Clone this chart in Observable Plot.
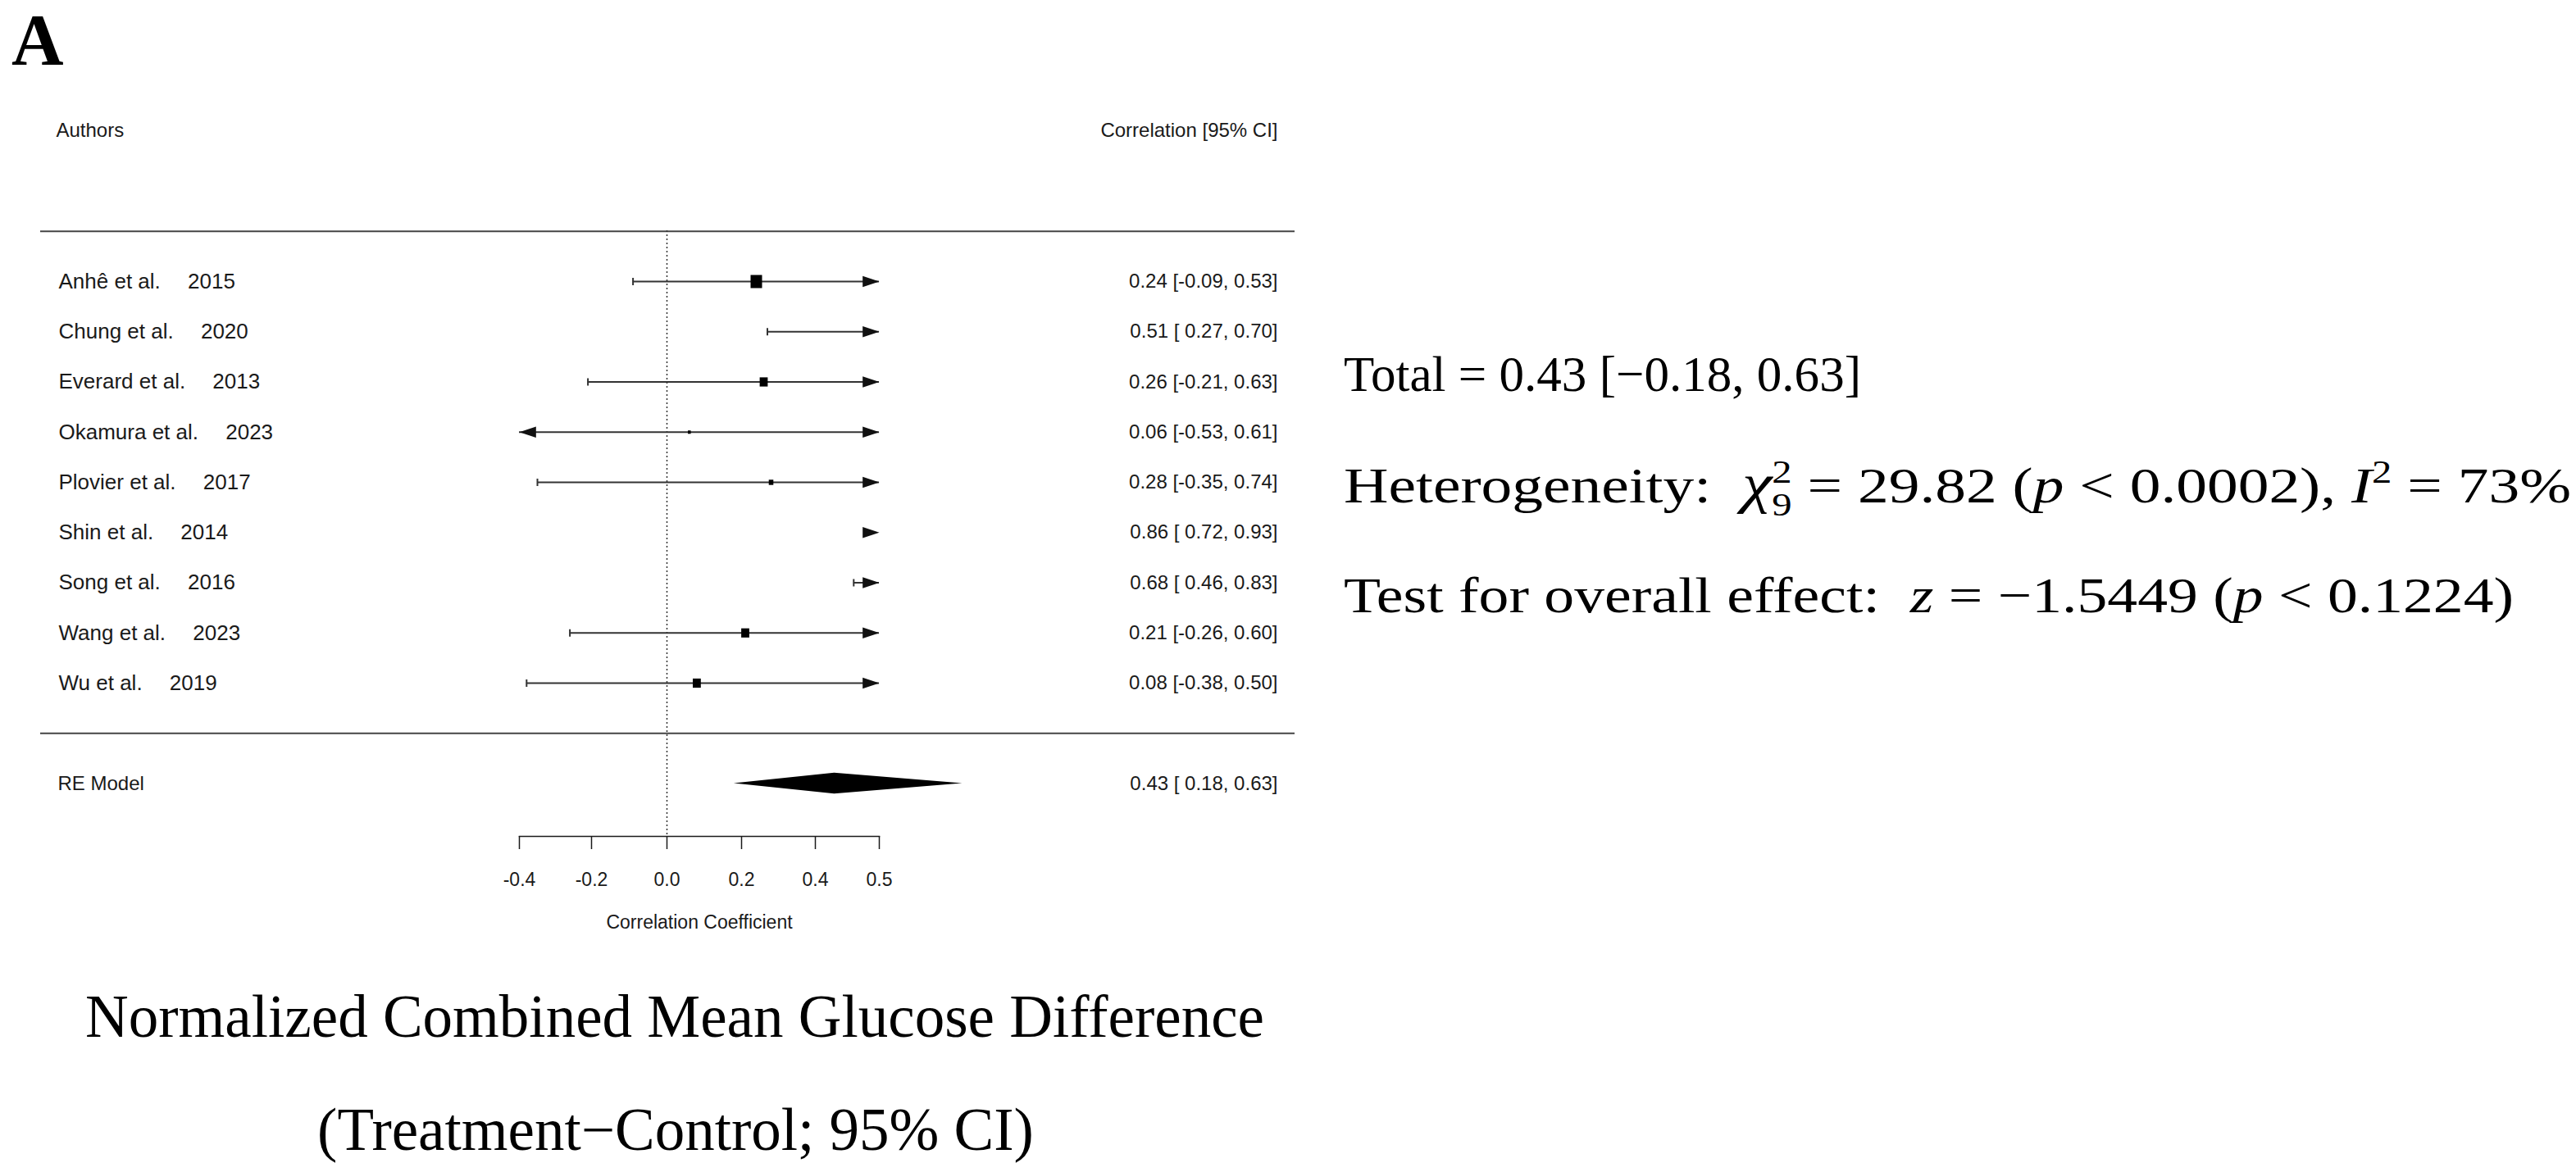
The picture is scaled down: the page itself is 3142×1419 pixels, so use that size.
<!DOCTYPE html>
<html>
<head>
<meta charset="utf-8">
<script src="https://cdn.jsdelivr.net/npm/d3@7"></script>
<script src="https://cdn.jsdelivr.net/npm/@observablehq/plot@0.6"></script>
<style>
  html, body { margin: 0; padding: 0; background: #fff; }
  #fig { position: relative; width: 3142px; height: 1419px; overflow: hidden; background: #fff; }
  #fig > svg { position: absolute; left: 0; top: 0; }
</style>
</head>
<body>
<div id="fig"></div>
<script>
// ---------------- data ----------------
const authors   = ["Anhê et al.", "Chung et al.", "Everard et al.", "Okamura et al.", "Plovier et al.", "Shin et al.", "Song et al.", "Wang et al.", "Wu et al."];
const years     = [2015, 2020, 2013, 2023, 2017, 2014, 2016, 2023, 2019];
const estimates = [0.24, 0.51, 0.26, 0.06, 0.28, 0.86, 0.68, 0.21, 0.08];
const lower     = [-0.09, 0.27, -0.21, -0.53, -0.35, 0.72, 0.46, -0.26, -0.38];
const upper     = [0.53, 0.70, 0.63, 0.61, 0.74, 0.93, 0.83, 0.60, 0.50];
const weights   = [15, null, 10.5, 3.8, 6, null, null, 10.5, 10.5]; // relative study weights (square size); null = not visible
const summary   = {label: "RE Model", est: 0.43, lo: 0.18, hi: 0.63};
const headerLeft  = "Authors";
const headerRight = "Correlation [95% CI]";
const xTicks    = [-0.4, -0.2, 0, 0.2, 0.4, 0.5];
const axisLimits = [-0.4, 0.5];
const axisTitle = "Correlation Coefficient";
const panelLabel = "A";
const titleLines = ["Normalized Combined Mean Glucose Difference", "(Treatment\u2212Control; 95% CI)"];
const total = {est: 0.43, lo: -0.18, hi: 0.63};
const heterogeneity = {chi2: "29.82", df: 9, p: "0.0002", I2: 73};
const overall = {z: "\u22121.5449", p: "0.1224"};

// ---------------- derived ----------------
const rows = authors.map((a, i) => ({row: i, author: a, year: years[i], est: estimates[i], lo: lower[i], hi: upper[i], w: weights[i]}));
const [xmin, xmax] = axisLimits;
const fmt = v => v.toFixed(2);
const ciText = (e, l, h) => `${fmt(e)} [${l < 0 ? "" : " "}${fmt(l)}, ${fmt(h)}]`;
const summaryRow = rows.length + 1;
const headerRow = -3;
const ruleRows = [-1, rows.length];
const dh = 0.21;
const diamond = [
  {y: summaryRow - dh, x1: summary.est, x2: summary.est},
  {y: summaryRow, x1: summary.lo, x2: summary.hi},
  {y: summaryRow + dh, x1: summary.est, x2: summary.est}
];

function sym(fn) { return {draw(ctx, size) { fn(ctx, Math.sqrt(size / Math.PI)); }}; }
const squareSym  = sym((c, r) => { const w = r * 0.875; c.moveTo(-w, -r); c.lineTo(w, -r); c.lineTo(w, r); c.lineTo(-w, r); c.closePath(); });
const rightArrow = sym((c, r) => { c.moveTo(0, 0); c.lineTo(-2.9 * r, -0.95 * r); c.lineTo(-2.9 * r, 0.95 * r); c.closePath(); });
const leftArrow  = sym((c, r) => { c.moveTo(0, 0); c.lineTo(2.9 * r, -0.95 * r); c.lineTo(2.9 * r, 0.95 * r); c.closePath(); });
const vTick      = sym((c, r) => { c.moveTo(0, -r); c.lineTo(0, r); });

const ink = "#1a1a1a";

const chart = Plot.plot({
  width: 1600,
  height: 1180,
  marginLeft: 633,
  marginRight: 528,
  marginTop: 281,
  marginBottom: 160,
  style: {fontFamily: "'Liberation Sans', Arial, sans-serif", fontSize: "24px", color: ink, background: "transparent", overflow: "visible"},
  x: {type: "linear", domain: xTicks, range: [633, 721, 813, 904, 994, 1072]},
  y: {type: "linear", domain: [0, rows.length - 1], range: [343, 833], axis: null},
  r: {type: "linear", domain: [0, 15], range: [0, 8]},
  marks: [
    Plot.ruleY(ruleRows, {insetLeft: -584, insetRight: -507, stroke: "#444", strokeWidth: 2.2}),
    Plot.ruleX([0], {stroke: "#333", strokeDasharray: "2,3", strokeWidth: 1.5}),
    Plot.ruleY(rows.filter(d => d.lo < xmax), {y: "row", x1: d => Math.max(d.lo, xmin), x2: d => Math.min(d.hi, xmax), stroke: "#333", strokeWidth: 2}),
    Plot.dot(rows.filter(d => d.lo >= xmin && d.lo < xmax), {x: "lo", y: "row", symbol: vTick, r: 4.5, stroke: "#333", strokeWidth: 2, fill: "none"}),
    Plot.dot(rows.filter(d => d.hi < xmax), {x: "hi", y: "row", symbol: vTick, r: 4.5, stroke: "#333", strokeWidth: 2, fill: "none"}),
    Plot.dot(rows.filter(d => d.hi >= xmax), {x: () => xmax, y: "row", symbol: rightArrow, r: 7, fill: "#111", stroke: null}),
    Plot.dot(rows.filter(d => d.lo < xmin), {x: () => xmin, y: "row", symbol: leftArrow, r: 7, fill: "#111", stroke: null}),
    Plot.dot(rows.filter(d => d.w != null && d.est >= xmin && d.est <= xmax), {x: "est", y: "row", r: "w", symbol: squareSym, fill: "#000", stroke: null}),
    Plot.areaX(diamond, {y: "y", x1: "x1", x2: "x2", fill: "#000"}),
    Plot.text(rows, {y: "row", text: d => `${d.author}\u2003 ${d.year}`, frameAnchor: "left", dx: -562, textAnchor: "start", fontSize: 26, fill: ink}),
    Plot.text(rows, {y: "row", text: d => ciText(d.est, d.lo, d.hi), frameAnchor: "right", dx: 486, textAnchor: "end", fontSize: 24, fill: ink}),
    Plot.text([summary], {y: () => summaryRow, text: "label", frameAnchor: "left", dx: -563, textAnchor: "start", fontSize: 24, fill: ink}),
    Plot.text([summary], {y: () => summaryRow, text: d => ciText(d.est, d.lo, d.hi), frameAnchor: "right", dx: 486, textAnchor: "end", fontSize: 24, fill: ink}),
    Plot.text([headerLeft], {y: () => headerRow, text: d => d, frameAnchor: "left", dx: -565, textAnchor: "start", fontSize: 24, fill: ink}),
    Plot.text([headerRight], {y: () => headerRow, text: d => d, frameAnchor: "right", dx: 486, textAnchor: "end", fontSize: 24, fill: ink}),
    Plot.axisX({ticks: xTicks, tickFormat: d => d.toFixed(1), tickSize: 16, tickPadding: 28, fontSize: 23, label: null, strokeWidth: 1.5}),
    Plot.frame({anchor: "bottom", strokeWidth: 1.5}),
    Plot.text([axisTitle], {text: d => d, frameAnchor: "bottom", dy: 112, fontSize: 23, fill: ink})
  ]
});

const fig = document.getElementById("fig");
fig.appendChild(chart);

// ---------------- annotations (panel label, caption, statistics) ----------------
const ov = d3.create("svg").attr("width", 3142).attr("height", 1419)
  .style("font-family", "'Liberation Serif', 'Times New Roman', serif").attr("fill", "#000");

ov.append("text").attr("x", 14).attr("y", 78).attr("font-size", 88).attr("font-weight", "bold").text(panelLabel);

ov.append("text").attr("x", 823).attr("y", 1265).attr("font-size", 73).attr("text-anchor", "middle").text(titleLines[0]);
ov.append("text").attr("x", 824).attr("y", 1403).attr("font-size", 73).attr("text-anchor", "middle").text(titleLines[1]);

const MINUS = "\u2212";
const NB = "\u00A0";
const t1 = ov.append("text").attr("x", 1639).attr("y", 477).attr("font-size", 62)
  .attr("textLength", 631).attr("lengthAdjust", "spacingAndGlyphs");
t1.text(`Total = ${fmt(total.est)} [${total.lo < 0 ? MINUS : ""}${fmt(Math.abs(total.lo))}, ${fmt(total.hi)}]`);

const t2 = ov.append("text").attr("x", 1639).attr("y", 613).attr("font-size", 62)
  .attr("textLength", 1497).attr("lengthAdjust", "spacingAndGlyphs");
t2.append("tspan").text(`Heterogeneity:${NB}${NB}`);
t2.append("tspan").attr("font-style", "italic").attr("font-size", 68).text("\u03C7");
t2.append("tspan").attr("font-size", 40).attr("dy", -24).text("2");
t2.append("tspan").attr("font-size", 40).attr("dx", -20).attr("dy", 40).text(String(heterogeneity.df));
t2.append("tspan").attr("dy", -16).text(`${NB}=${NB}${heterogeneity.chi2}${NB}(`);
t2.append("tspan").attr("font-style", "italic").text("p");
t2.append("tspan").text(`${NB}<${NB}${heterogeneity.p}),${NB}`);
t2.append("tspan").attr("font-style", "italic").text("I");
t2.append("tspan").attr("font-size", 40).attr("dy", -24).text("2");
t2.append("tspan").attr("dy", 24).text(`${NB}=${NB}${heterogeneity.I2}%`);

const t3 = ov.append("text").attr("x", 1639).attr("y", 747).attr("font-size", 62)
  .attr("textLength", 1427).attr("lengthAdjust", "spacingAndGlyphs");
t3.append("tspan").text(`Test for overall effect:${NB}${NB}`);
t3.append("tspan").attr("font-style", "italic").text("z");
t3.append("tspan").text(`${NB}=${NB}${overall.z}${NB}(`);
t3.append("tspan").attr("font-style", "italic").text("p");
t3.append("tspan").text(`${NB}<${NB}${overall.p})`);

fig.appendChild(ov.node());
</script>
</body>
</html>
